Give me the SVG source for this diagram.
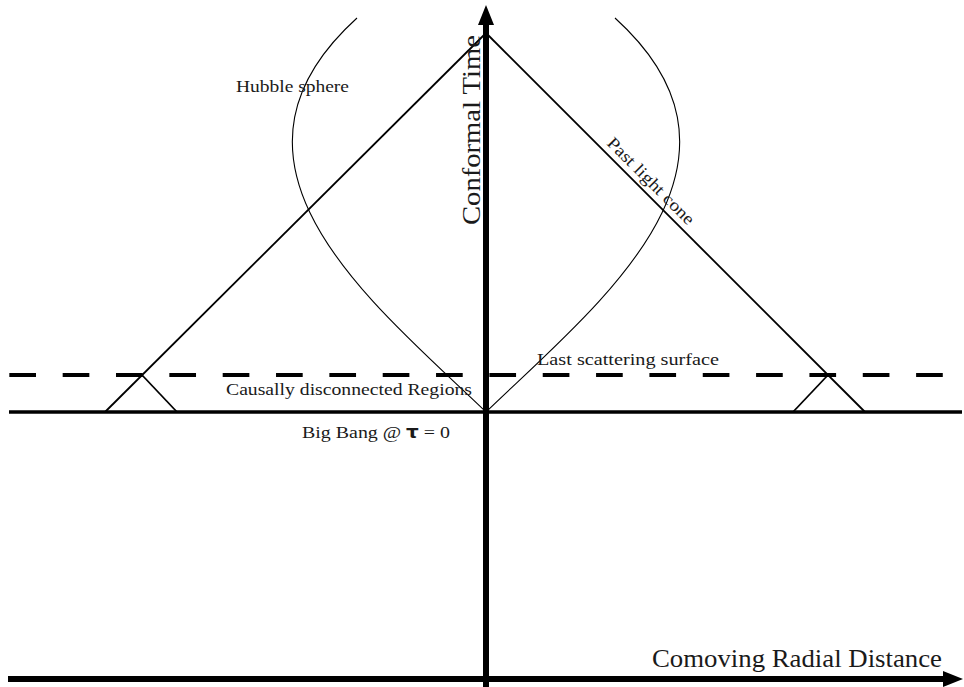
<svg xmlns="http://www.w3.org/2000/svg" width="964" height="687" viewBox="0 0 964 687">
  <style>
    .axis { stroke: #000; stroke-width: 6; fill: none; }
    .cone { stroke: #000; stroke-width: 1.8; fill: none; }
    .hubble { stroke: #000; stroke-width: 1.1; fill: none; }
    .bang { stroke: #000; stroke-width: 3.5; fill: none; }
    .lss { stroke: #000; stroke-width: 4; fill: none; stroke-dasharray: 26.67 26.67; }
    .lbl { font-family: "Liberation Serif", "DejaVu Serif", serif; fill: #1a1a1a; }
    .sm { font-size: 17px; }
    .lg { font-size: 25px; }
  </style>
  <defs>
    <marker id="arrow" markerUnits="userSpaceOnUse" markerWidth="20" markerHeight="16" viewBox="0 0 20 16" refX="2" refY="8" orient="auto">
      <path d="M0,0 L20,8 L0,16 Z" fill="#000"/>
    </marker>
  </defs>

  <g id="connectors">
    <line id="big-bang-line" class="bang" x1="9" y1="412" x2="962" y2="412"/>
    <line id="last-scattering-line" class="lss" x1="9.33" y1="375" x2="945" y2="375"/>
    <path id="hubble-left" class="hubble" d="M486,412 C375,305 195,165 357,18"/>
    <path id="hubble-right" class="hubble" d="M486,412 C597,305 777,165 615,18"/>
    <line id="cone-left" class="cone" x1="486" y1="33" x2="105" y2="412"/>
    <line id="cone-right" class="cone" x1="486" y1="33" x2="865" y2="412"/>
    <line id="small-cone-left" class="cone" x1="142" y1="375" x2="177" y2="412"/>
    <line id="small-cone-right" class="cone" x1="828" y1="375" x2="793" y2="412"/>
    <line id="time-axis" class="axis" x1="486" y1="687" x2="486" y2="23" marker-end="url(#arrow)"/>
    <line id="distance-axis" class="axis" x1="8" y1="679" x2="945" y2="679" marker-end="url(#arrow)"/>
  </g>

  <g id="label-hubble">
    <text class="lbl sm" x="236" y="92" textLength="113" lengthAdjust="spacingAndGlyphs">Hubble sphere</text>
  </g>
  <g id="label-conformal-time">
    <text class="lbl lg" transform="translate(480,225) rotate(-90)" textLength="190" lengthAdjust="spacingAndGlyphs">Conformal Time</text>
  </g>
  <g id="label-past-light-cone">
    <text class="lbl sm" transform="translate(606,144) rotate(45)" textLength="116" lengthAdjust="spacingAndGlyphs">Past light cone</text>
  </g>
  <g id="label-last-scattering">
    <text class="lbl sm" x="537" y="365" textLength="182" lengthAdjust="spacingAndGlyphs">Last scattering surface</text>
  </g>
  <g id="label-causally">
    <text class="lbl sm" x="226" y="395" textLength="246" lengthAdjust="spacingAndGlyphs">Causally disconnected Regions</text>
  </g>
  <g id="label-big-bang">
    <text class="lbl sm" x="302" y="438" textLength="148" lengthAdjust="spacingAndGlyphs">Big Bang @ <tspan font-family="DejaVu Sans, sans-serif" font-weight="bold">τ</tspan> = 0</text>
  </g>
  <g id="label-comoving">
    <text class="lbl lg" x="652" y="667" textLength="290" lengthAdjust="spacingAndGlyphs">Comoving Radial Distance</text>
  </g>
</svg>
